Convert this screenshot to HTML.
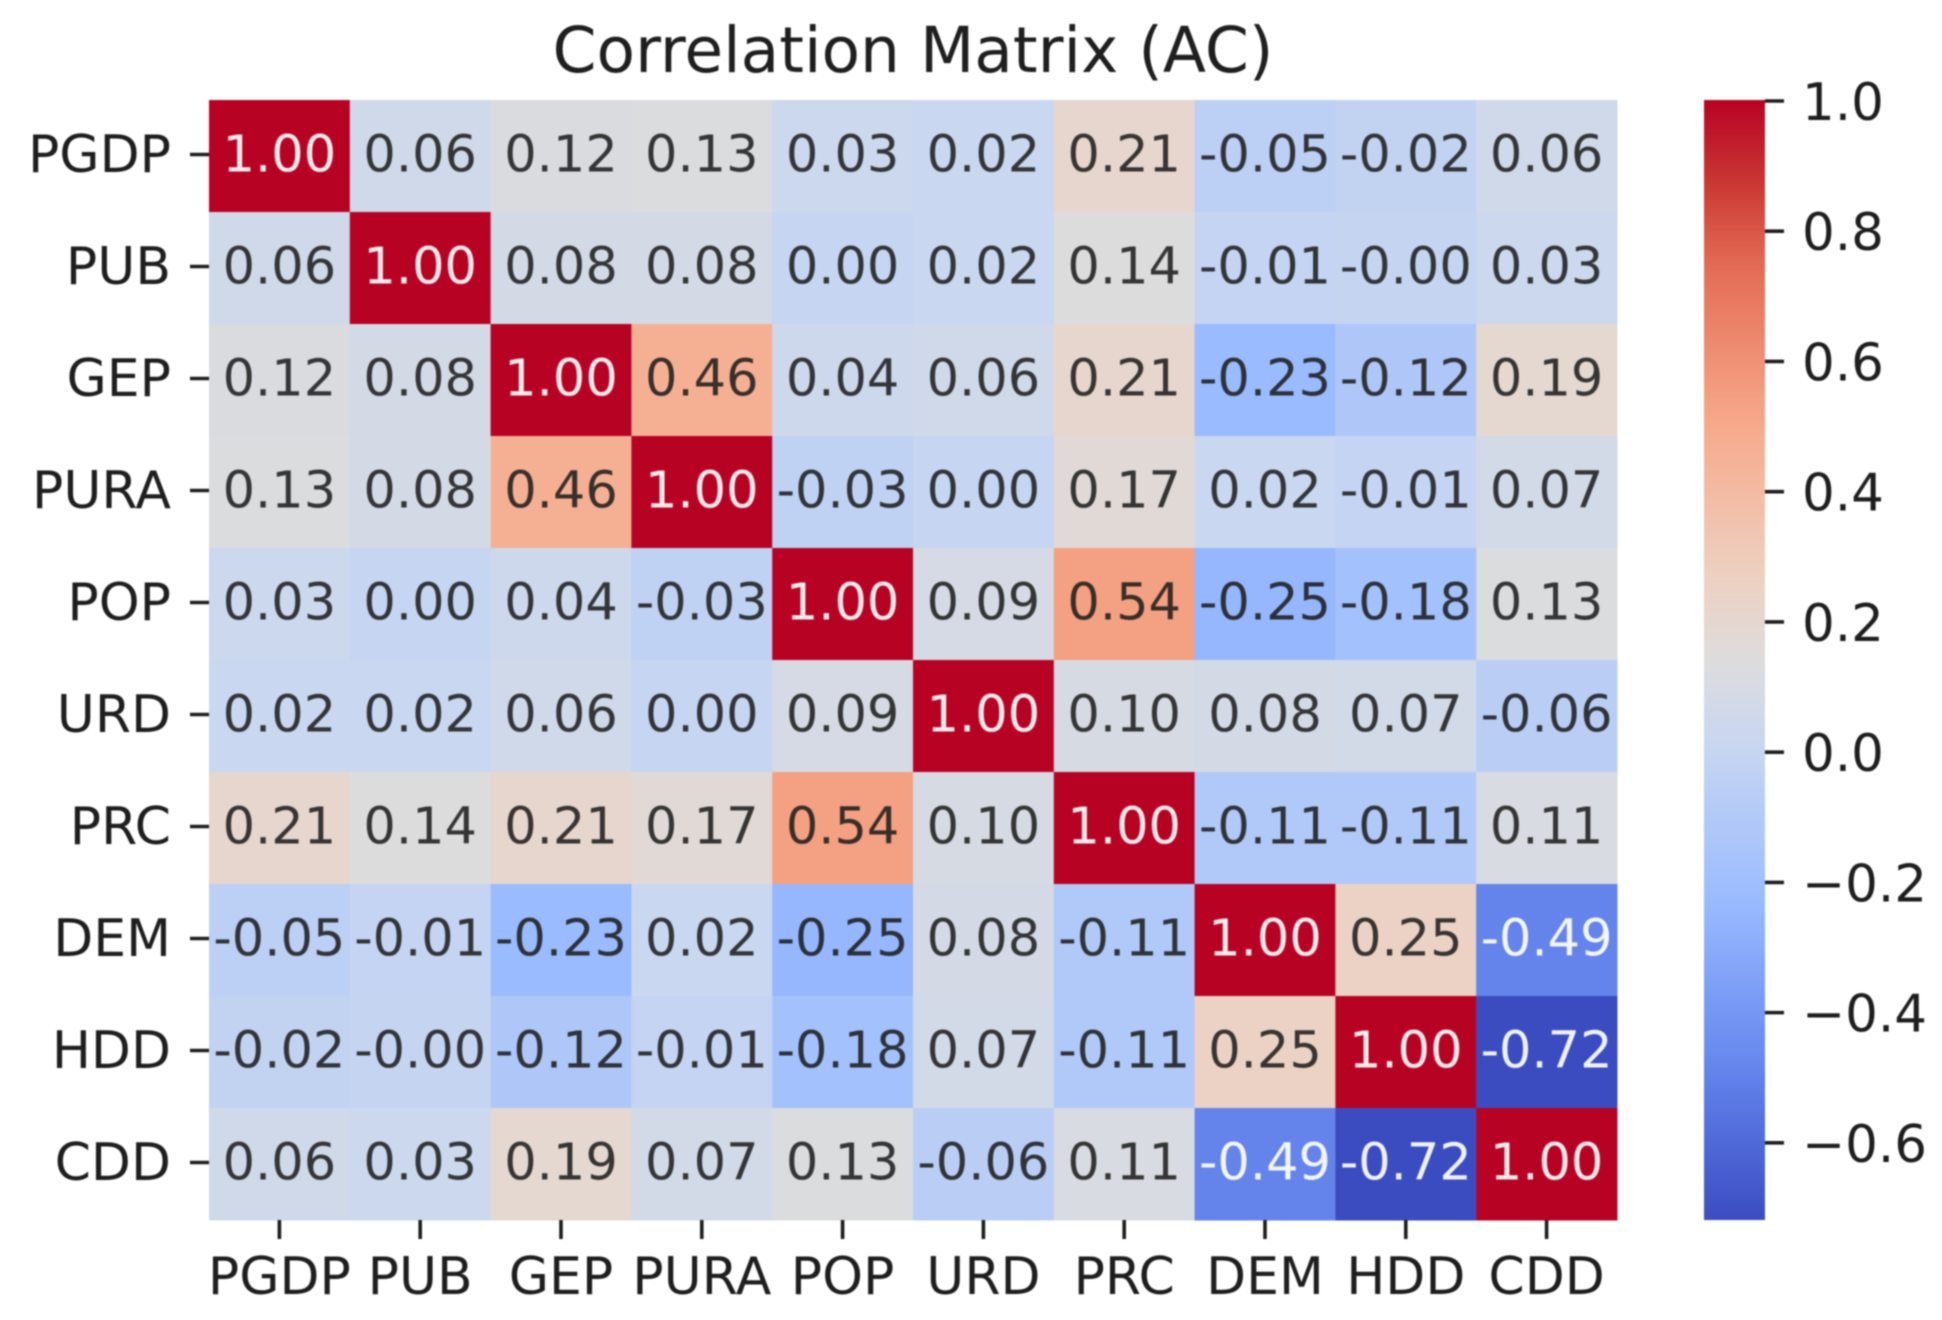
<!DOCTYPE html>
<html lang="en">
<head>
<meta charset="utf-8">
<title>Correlation Matrix (AC)</title>
<style>
html,body{margin:0;padding:0;background:#fff;width:1942px;height:1320px;overflow:hidden}
svg{display:block;filter:blur(0.9px)}
text{font-family:"DejaVu Sans","Liberation Sans",sans-serif}
</style>
</head>
<body>
<svg id="chart" xmlns="http://www.w3.org/2000/svg" width="1942" height="1320" viewBox="0 0 1942 1320">
<rect x="0" y="0" width="1942" height="1320" fill="#ffffff"/>
<text x="913" y="72" font-size="63" text-anchor="middle" fill="#1f1f1f">Correlation Matrix (AC)</text>
<defs><linearGradient id="cbar-gradient" x1="0" y1="1" x2="0" y2="0"></linearGradient></defs>
</svg>
<script>
const categories = ['PGDP','PUB','GEP','PURA','POP','URD','PRC','DEM','HDD','CDD'];
const rowPGDP = [1.00,0.06,0.12,0.13,0.03,0.02,0.21,-0.05,-0.02,0.06];
const rowPUB  = [0.06,1.00,0.08,0.08,0.00,0.02,0.14,-0.01,-0.004,0.03];
const rowGEP  = [0.12,0.08,1.00,0.46,0.04,0.06,0.21,-0.23,-0.12,0.19];
const rowPURA = [0.13,0.08,0.46,1.00,-0.03,0.00,0.17,0.02,-0.01,0.07];
const rowPOP  = [0.03,0.00,0.04,-0.03,1.00,0.09,0.54,-0.25,-0.18,0.13];
const rowURD  = [0.02,0.02,0.06,0.00,0.09,1.00,0.10,0.08,0.07,-0.06];
const rowPRC  = [0.21,0.14,0.21,0.17,0.54,0.10,1.00,-0.11,-0.11,0.11];
const rowDEM  = [-0.05,-0.01,-0.23,0.02,-0.25,0.08,-0.11,1.00,0.25,-0.49];
const rowHDD  = [-0.02,-0.004,-0.12,-0.01,-0.18,0.07,-0.11,0.25,1.00,-0.72];
const rowCDD  = [0.06,0.03,0.19,0.07,0.13,-0.06,0.11,-0.49,-0.72,1.00];
const matrix = [rowPGDP,rowPUB,rowGEP,rowPURA,rowPOP,rowURD,rowPRC,rowDEM,rowHDD,rowCDD];
const colorbarTicks = [1.0,0.8,0.6,0.4,0.2,0.0,-0.2,-0.4,-0.6];

const NS = 'http://www.w3.org/2000/svg';
const svg = document.getElementById('chart');
const plot = {left:209, right:1617, top:100, bottom:1220};
const bar = {left:1704, right:1765, top:100, bottom:1220};
const tickLen = 19, tickW = 3.6, cellFont = 51, axisFont = 52, barFont = 51.5, ink = '#1e1e1e';

const allValues = matrix.flat();
const vmin = Math.min(...allValues);
const vmax = Math.max(...allValues);

const cellW = (plot.right - plot.left) / categories.length;
const cellH = (plot.bottom - plot.top) / categories.length;
function xScale(i){ return plot.left + i * cellW; }
function yScale(i){ return plot.top + i * cellH; }
function barScale(v){ return bar.top + (vmax - v) / (vmax - vmin) * (bar.bottom - bar.top); }

const cmapPos = [0,0.0714,0.1429,0.2857,0.4286,0.5,0.5714,0.7143,0.8571,0.93,1];
const cmapRgb = [[59,76,192],[80,106,217],[103,136,238],[154,187,255],[201,215,240],[221,220,220],[237,209,194],[247,168,137],[226,105,82],[200,52,50],[184,2,36]];
function coolwarm(t){
  t = Math.max(0, Math.min(1, t));
  let k = 0;
  while (k < cmapPos.length - 2 && t > cmapPos[k + 1]) k++;
  const f = (t - cmapPos[k]) / (cmapPos[k + 1] - cmapPos[k]);
  return cmapRgb[k].map((c, j) => c + (cmapRgb[k + 1][j] - c) * f);
}
function colorOf(v){ return coolwarm((v - vmin) / (vmax - vmin)); }
function css(rgb){ return 'rgb(' + rgb.map(Math.round).join(',') + ')'; }
function luminance(rgb){
  const l = rgb.map(c => { const s = c / 255; return s <= 0.03928 ? s / 12.92 : Math.pow((s + 0.055) / 1.055, 2.4); });
  return 0.2126 * l[0] + 0.7152 * l[1] + 0.0722 * l[2];
}
function make(tag){ return document.createElementNS(NS, tag); }
function place(el, props){ for (const k in props) el.setAttribute(k, props[k]); svg.appendChild(el); return el; }

matrix.forEach((row, r) => {
  row.forEach((v, c) => {
    const rgb = colorOf(v);
    const cell = make('rect');
    
    
    place(cell, {x:xScale(c), y:yScale(r), width:cellW + 0.5, height:cellH + 0.5, fill:css(rgb)});
  });
});

matrix.forEach((row, r) => {
  row.forEach((v, c) => {
    const rgb = colorOf(v);
    const isLight = luminance(rgb) < 0.408;
    const label = make('text');
    
    
    label.textContent = v.toFixed(2);
    place(label, {x:xScale(c) + cellW / 2, y:yScale(r) + cellH / 2 + 15.5, 'font-size':cellFont, 'text-anchor':'middle', fill: isLight ? '#ffffff' : '#1a1a1a', 'fill-opacity': isLight ? 0.92 : 0.86});
  });
});

categories.forEach((name, i) => {
  const cy = yScale(i) + cellH / 2;
  const yTick = make('line');
  
  
  place(yTick, {x1:plot.left - tickLen, x2:plot.left, y1:cy - 1.5, y2:cy - 1.5, stroke:ink, 'stroke-width':tickW});
  const yLabel = make('text');
  
  
  yLabel.textContent = name;
  place(yLabel, {x:plot.left - 38, y:cy + 16, 'font-size':axisFont, 'text-anchor':'end', fill:ink});

  const cx = xScale(i) + cellW / 2;
  const xTick = make('line');
  
  
  place(xTick, {x1:cx, x2:cx, y1:plot.bottom, y2:plot.bottom + tickLen, stroke:ink, 'stroke-width':tickW});
  const xLabel = make('text');
  
  
  xLabel.textContent = name;
  place(xLabel, {x:cx, y:plot.bottom + 74, 'font-size':axisFont, 'text-anchor':'middle', fill:ink});
});

const gradient = document.getElementById('cbar-gradient');
for (let s = 0; s <= 40; s++) {
  const stop = make('stop');
  stop.setAttribute('offset', s / 40);
  stop.setAttribute('stop-color', css(coolwarm(s / 40)));
  gradient.appendChild(stop);
}
const colorbar = make('rect');


place(colorbar, {x:bar.left, y:bar.top, width:bar.right - bar.left, height:bar.bottom - bar.top, fill:'url(#cbar-gradient)'});

colorbarTicks.forEach(v => {
  const y = barScale(v);
  const tick = make('line');
  
  
  place(tick, {x1:bar.right, x2:bar.right + tickLen, y1:y + 1, y2:y + 1, stroke:ink, 'stroke-width':tickW});
  const label = make('text');
  
  
  label.textContent = (v < 0 ? '\u2212' : '') + Math.abs(v).toFixed(1);
  place(label, {x:bar.right + 37, y:y + 20, 'font-size':barFont, fill:ink});
});
</script>
</body>
</html>
